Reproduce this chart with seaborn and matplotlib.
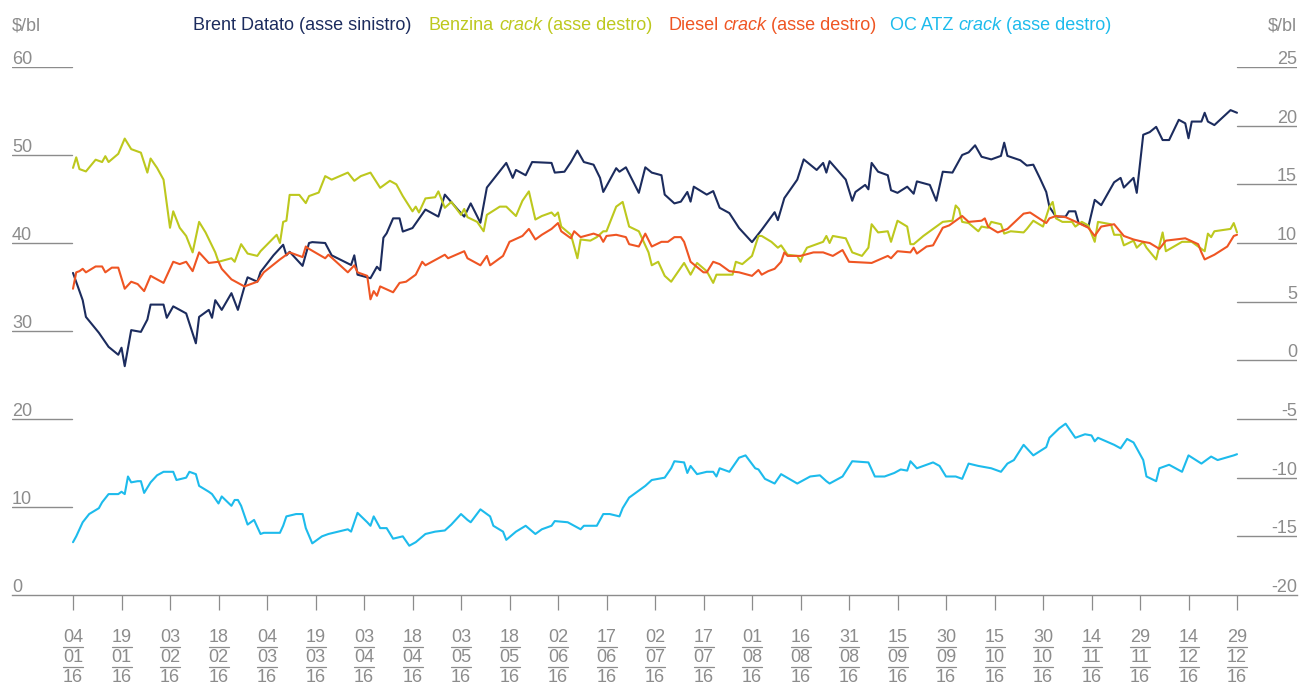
import matplotlib
matplotlib.use("Agg")
import pandas as pd
import seaborn as sns
import matplotlib.pyplot as plt
import matplotlib.dates as mdates
import matplotlib.transforms as mtransforms

START = pd.Timestamp("2016-01-04")

# days counted from 04/01/16
brent_day = [0, 3, 4, 8, 11, 14, 15, 16, 18, 21,
             23, 24, 28, 29, 31, 35, 38, 39, 42, 43,
             44, 46, 49, 51, 53, 54, 57, 58, 62, 65,
             66, 67, 71, 73, 74, 78, 80, 86, 87, 88,
             92, 94, 95, 96, 97, 99, 101, 102, 105, 109,
             113, 115, 119, 121, 123, 126, 128, 134, 136, 137,
             140, 142, 148, 149, 152, 154, 156, 158, 161, 163,
             164, 168, 169, 171, 175, 177, 179, 182, 183, 186,
             188, 190, 191, 192, 196, 198, 200, 203, 206, 210,
             213, 217, 218, 220, 224, 226, 230, 232, 233, 234,
             239, 241, 242, 245, 246, 247, 249, 252, 253, 255,
             258, 260, 261, 265, 267, 269, 272, 275, 277, 279,
             281, 284, 287, 288, 289, 293, 295, 297, 299, 301,
             302, 304, 307, 308, 310, 311, 314, 316, 318, 322,
             324, 325, 328, 329, 331, 333, 335, 337, 339, 342,
             344, 345, 346, 349, 350, 351, 353, 358, 360]
brent_usd = [36.6, 33.5, 31.6, 29.8, 28.2, 27.3, 28.1, 26.0, 30.1, 29.9,
             31.3, 33.0, 33.0, 31.5, 32.8, 32.0, 28.6, 31.6, 32.4, 31.5,
             33.5, 32.4, 34.3, 32.4, 35.0, 36.1, 35.6, 36.7, 38.6, 39.8,
             38.6, 39.0, 37.4, 40.0, 40.1, 40.0, 38.6, 37.5, 38.6, 36.4,
             36.0, 37.3, 36.9, 40.6, 41.1, 42.8, 42.8, 41.3, 41.7, 43.8,
             43.0, 45.5, 43.8, 43.0, 44.5, 42.3, 46.3, 49.1, 47.4, 48.3,
             47.7, 49.2, 49.1, 48.0, 48.1, 49.2, 50.5, 49.2, 48.9, 47.4,
             45.8, 48.5, 48.1, 48.6, 45.7, 48.6, 48.0, 47.7, 45.5, 44.5,
             44.7, 45.8, 44.7, 46.4, 45.5, 45.9, 44.0, 43.4, 41.7, 40.1,
             41.5, 43.5, 42.6, 45.1, 47.2, 49.5, 48.3, 49.1, 48.0, 49.3,
             47.2, 44.8, 45.8, 46.6, 46.1, 49.1, 48.1, 47.7, 46.0, 45.7,
             46.4, 45.6, 47.0, 46.6, 44.8, 48.1, 48.0, 50.0, 50.3, 51.1,
             49.8, 49.5, 49.9, 51.4, 49.9, 49.4, 48.8, 48.9, 47.4, 45.8,
             44.1, 43.0, 43.0, 43.6, 43.6, 42.3, 41.8, 44.9, 44.3, 46.9,
             47.4, 46.3, 47.4, 45.7, 52.3, 52.6, 53.2, 51.7, 51.7, 54.0,
             53.6, 51.9, 53.8, 53.8, 54.8, 53.8, 53.4, 55.1, 54.8]

benzina_day = [0, 1, 2, 4, 7, 9, 10, 11, 14, 16,
               18, 21, 23, 24, 26, 28, 30, 31, 33, 35,
               37, 39, 41, 44, 45, 49, 50, 52, 54, 57,
               58, 63, 64, 65, 66, 67, 70, 72, 73, 76,
               78, 80, 85, 87, 89, 92, 95, 98, 100, 102,
               105, 106, 107, 109, 112, 113, 115, 117, 120, 121,
               122, 125, 127, 128, 132, 134, 137, 139, 141, 143,
               145, 148, 149, 150, 151, 154, 156, 157, 160, 162,
               164, 165, 168, 170, 172, 175, 178, 179, 181, 183,
               185, 189, 191, 193, 196, 198, 199, 204, 205, 207,
               210, 212, 213, 216, 218, 219, 221, 224, 225, 226,
               227, 232, 233, 234, 235, 239, 241, 244, 246, 247,
               249, 252, 253, 255, 258, 259, 260, 263, 266, 269,
               272, 273, 274, 275, 277, 280, 281, 283, 284, 287,
               288, 290, 294, 295, 297, 300, 302, 303, 304, 306,
               309, 310, 312, 314, 316, 317, 321, 322, 324, 325,
               328, 329, 331, 332, 335, 337, 338, 343, 346, 350,
               351, 352, 353, 358, 359, 360]
benzina_usd = [16.4, 17.3, 16.3, 16.1, 17.1, 16.9, 17.4, 16.9, 17.6, 18.9,
               18.0, 17.7, 16.0, 17.2, 16.4, 15.4, 11.3, 12.7, 11.3, 10.6,
               9.2, 11.8, 10.9, 9.2, 8.4, 8.7, 8.4, 9.9, 9.1, 8.9,
               9.3, 10.7, 10.0, 11.8, 11.9, 14.1, 14.1, 13.4, 14.0, 14.3,
               15.7, 15.4, 16.0, 15.3, 15.7, 16.0, 14.7, 15.3, 15.0, 14.0,
               12.7, 13.1, 12.6, 13.8, 13.9, 14.4, 13.0, 13.5, 12.4, 12.9,
               12.2, 11.8, 11.0, 12.4, 13.1, 13.1, 12.3, 13.6, 14.4, 12.0,
               12.3, 12.6, 12.3, 12.6, 11.4, 10.7, 8.7, 10.3, 10.2, 10.5,
               11.0, 11.0, 13.1, 13.5, 11.4, 11.0, 9.2, 8.1, 8.4, 7.2,
               6.7, 8.3, 7.3, 8.3, 7.6, 6.6, 7.3, 7.3, 8.4, 8.2,
               8.9, 10.6, 10.6, 10.1, 9.6, 9.8, 9.0, 8.9, 8.4, 9.1,
               9.6, 10.1, 10.6, 10.0, 10.6, 10.4, 9.2, 8.9, 9.6, 11.6,
               10.9, 11.0, 10.1, 11.9, 11.4, 9.9, 9.9, 10.6, 11.2, 11.8,
               11.9, 13.2, 12.9, 11.8, 11.7, 11.0, 11.4, 11.3, 11.8, 11.6,
               10.8, 11.0, 10.9, 11.2, 11.9, 11.4, 13.1, 13.5, 12.1, 11.8,
               11.8, 11.4, 11.8, 11.5, 10.1, 11.8, 11.6, 10.7, 10.7, 9.8,
               10.2, 9.6, 10.1, 9.6, 8.6, 10.9, 9.3, 10.1, 10.1, 9.3,
               10.8, 10.5, 11.0, 11.2, 11.7, 10.9]

diesel_day = [0, 1, 2, 3, 4, 7, 9, 10, 12, 14,
              16, 18, 20, 22, 24, 28, 31, 33, 35, 37,
              39, 42, 45, 46, 49, 53, 57, 59, 64, 67,
              71, 72, 73, 78, 79, 85, 87, 88, 91, 92,
              93, 94, 95, 99, 101, 103, 106, 108, 109, 113,
              115, 116, 121, 122, 126, 128, 129, 133, 135, 139,
              141, 143, 145, 148, 150, 151, 154, 155, 157, 161,
              163, 164, 165, 168, 171, 172, 175, 177, 179, 182,
              184, 186, 188, 189, 191, 195, 196, 198, 200, 203,
              206, 210, 212, 213, 215, 217, 219, 220, 221, 225,
              229, 232, 235, 238, 240, 247, 252, 253, 255, 259,
              260, 261, 264, 266, 269, 271, 275, 277, 281, 282,
              283, 286, 289, 294, 296, 301, 302, 304, 307, 311,
              314, 316, 318, 322, 325, 328, 331, 333, 336, 338,
              344, 348, 349, 350, 353, 357, 359, 360]
diesel_usd = [6.1, 7.5, 7.6, 7.8, 7.5, 8.0, 8.0, 7.5, 7.9, 7.9,
              6.1, 6.7, 6.5, 5.9, 7.2, 6.6, 8.4, 8.2, 8.4, 7.6,
              9.2, 8.3, 8.4, 7.8, 6.9, 6.3, 6.7, 7.5, 8.6, 9.2,
              8.8, 9.7, 9.5, 8.7, 9.0, 7.5, 8.1, 7.5, 7.2, 5.2,
              5.9, 5.5, 6.3, 5.8, 6.6, 6.7, 7.3, 8.4, 8.1, 8.7,
              9.0, 8.7, 9.3, 8.7, 8.1, 8.9, 8.1, 8.9, 10.1, 10.6,
              11.2, 10.3, 10.7, 11.2, 11.7, 11.0, 10.4, 11.0, 10.5, 10.8,
              10.6, 10.1, 10.6, 10.7, 10.5, 9.9, 9.7, 10.8, 9.7, 10.1,
              10.1, 10.5, 10.5, 10.1, 8.4, 7.5, 7.5, 8.4, 8.2, 7.6,
              7.5, 7.2, 7.7, 7.3, 7.6, 7.8, 8.4, 9.2, 8.9, 8.9,
              9.2, 9.2, 8.9, 9.4, 8.4, 8.3, 8.9, 8.7, 9.3, 9.2,
              9.6, 9.1, 9.7, 9.8, 11.3, 11.5, 12.3, 11.8, 11.9, 12.1,
              11.4, 10.9, 11.2, 12.5, 12.6, 11.7, 12.1, 12.3, 12.2, 11.7,
              11.3, 10.6, 11.4, 11.6, 10.6, 10.3, 10.1, 10.0, 9.5, 10.2,
              10.4, 9.9, 9.2, 8.6, 9.0, 9.7, 10.6, 10.7]

ocatz_day = [0, 1, 3, 5, 8, 9, 11, 14, 15, 16,
             17, 18, 20, 21, 22, 24, 26, 28, 31, 32,
             35, 36, 38, 39, 42, 43, 45, 46, 49, 50,
             51, 52, 54, 56, 58, 59, 64, 65, 66, 69,
             71, 72, 74, 77, 79, 82, 85, 86, 88, 91,
             92, 93, 95, 97, 99, 102, 104, 106, 109, 112,
             115, 117, 120, 122, 123, 126, 129, 130, 133, 134,
             137, 140, 143, 145, 148, 149, 153, 157, 158, 162,
             164, 166, 169, 170, 172, 174, 177, 179, 183, 185,
             186, 189, 190, 191, 193, 196, 198, 199, 200, 203,
             206, 208, 211, 212, 214, 217, 219, 224, 228, 231,
             233, 234, 238, 241, 246, 248, 251, 254, 256, 258,
             259, 261, 266, 268, 270, 273, 275, 277, 280, 284,
             287, 289, 291, 294, 297, 301, 302, 305, 307, 310,
             313, 315, 316, 317, 322, 324, 326, 328, 331, 332,
             335, 336, 339, 343, 345, 349, 352, 354, 359, 360]
ocatz_usd = [-15.5, -15.0, -13.8, -13.1, -12.6, -12.1, -11.4, -11.4, -11.2, -11.4,
             -9.9, -10.4, -10.3, -10.3, -11.3, -10.4, -9.8, -9.5, -9.5, -10.2,
             -10.0, -9.5, -9.7, -10.7, -11.2, -11.4, -12.2, -11.6, -12.4, -11.9,
             -11.9, -12.4, -14.0, -13.6, -14.8, -14.7, -14.7, -14.1, -13.3, -13.1,
             -13.1, -14.3, -15.6, -15.0, -14.8, -14.6, -14.4, -14.6, -13.0, -13.8,
             -14.1, -13.3, -14.3, -14.3, -15.2, -15.0, -15.8, -15.5, -14.8, -14.6,
             -14.5, -14.0, -13.1, -13.6, -13.8, -12.7, -13.3, -14.1, -14.6, -15.3,
             -14.6, -14.1, -14.8, -14.4, -14.1, -13.7, -13.8, -14.4, -14.1, -14.1,
             -13.1, -13.1, -13.3, -12.6, -11.7, -11.3, -10.7, -10.2, -10.0, -9.2,
             -8.6, -8.7, -9.6, -9.0, -9.7, -9.5, -9.5, -9.9, -9.2, -9.5,
             -8.3, -8.1, -9.2, -9.3, -10.1, -10.5, -9.7, -10.5, -9.9, -9.8,
             -10.3, -10.5, -9.9, -8.6, -8.7, -9.9, -9.9, -9.6, -9.3, -9.4,
             -8.6, -9.2, -8.7, -9.0, -9.9, -9.9, -10.1, -8.8, -9.0, -9.2,
             -9.5, -8.8, -8.5, -7.2, -8.1, -7.4, -6.6, -5.8, -5.4, -6.6,
             -6.3, -6.4, -6.9, -6.6, -7.2, -7.5, -6.7, -7.0, -8.5, -9.9,
             -10.3, -9.2, -8.9, -9.5, -8.1, -8.8, -8.2, -8.5, -8.1, -8.0]

left_ticks = [0, 10, 20, 30, 40, 50, 60]
right_ticks = [-20, -15, -10, -5, 0, 5, 10, 15, 20, 25]
tick_dates = pd.date_range("2016-01-04", "2016-12-29", freq="15D")

NAVY = "#1c2c5e"
LIME = "#bdc81e"
ORANGE = "#ef5523"
SKY = "#1dbbec"
GRAY = "#8c8c8c"


def frame(days, values):
    return pd.DataFrame({"date": START + pd.to_timedelta(days, unit="D"),
                         "value": values})


sns.set_theme(style="white")
plt.rcParams["font.family"] = ["Liberation Sans", "DejaVu Sans"]

W, H = 1299, 684
fig = plt.figure(figsize=(W / 100, H / 100), dpi=100)
ax = fig.add_axes([12 / W, 1 - 595 / H, (1297 - 12) / W, 528 / H])
ax2 = ax.twinx()

sns.lineplot(data=frame(brent_day, brent_usd), x="date", y="value",
             color=NAVY, lw=1.5, ax=ax)
for days, vals, col in [(benzina_day, benzina_usd, LIME),
                        (diesel_day, diesel_usd, ORANGE),
                        (ocatz_day, ocatz_usd, SKY)]:
    sns.lineplot(data=frame(days, vals), x="date", y="value",
                 color=col, lw=1.5, ax=ax2)

ax.set_ylim(0, 60)
ax2.set_ylim(-20, 25)
px_day = (1237 - 73) / 360
ax.set_xlim(START - pd.Timedelta(days=(73 - 12) / px_day),
            START + pd.Timedelta(days=360 + (1297 - 1237) / px_day))

for a in (ax, ax2):
    a.set_xlabel("")
    a.set_ylabel("")
    a.set_yticks([])
    for s in a.spines.values():
        s.set_visible(False)
ax.spines["bottom"].set_visible(True)
ax.spines["bottom"].set_color(GRAY)
ax.spines["bottom"].set_linewidth(1)
ax.set_xticks(tick_dates)
ax.set_xticklabels([""] * len(tick_dates))
ax.tick_params(axis="x", bottom=True, length=11, width=0.9, color=GRAY,
               direction="out")

# short gridline stubs at both edges, with labels sitting on them
left_tr = mtransforms.blended_transform_factory(ax.transAxes, ax.transData)
right_tr = mtransforms.blended_transform_factory(ax2.transAxes, ax2.transData)
lab_up = mtransforms.ScaledTranslation(0, 3 / 100, fig.dpi_scale_trans)
x_stub = 60 / 1285
for v in left_ticks:
    if v != 0:
        ax.plot([0, x_stub], [v, v], transform=left_tr, color=GRAY, lw=1)
    ax.text(0, v, str(v), transform=left_tr + lab_up, ha="left",
            va="baseline", fontsize=13, color=GRAY)
for v in right_ticks:
    if v != -20:
        ax2.plot([1 - x_stub, 1], [v, v], transform=right_tr, color=GRAY, lw=1)
    ax2.text(1, v, str(v), transform=right_tr + lab_up, ha="right",
             va="baseline", fontsize=13, color=GRAY)

# stacked dd / mm / yy date labels
date_tr = mtransforms.blended_transform_factory(ax.transData, fig.transFigure)
half = 10 / px_day
for d in tick_dates:
    dn = mdates.date2num(d)
    for txt, ypx in [(d.strftime("%d"), 642), (d.strftime("%m"), 662),
                     (d.strftime("%y"), 682)]:
        ax.text(dn, 1 - ypx / H, txt, transform=date_tr, ha="center",
                va="baseline", fontsize=13, color=GRAY, clip_on=False)
    for ypx in (647, 667):
        ax.plot([dn - half, dn + half], [1 - ypx / H] * 2, transform=date_tr,
                color=GRAY, lw=0.9, clip_on=False)

# header: units and coloured legend
fig.text(12 / W, 1 - 30 / H, "$/bl", ha="left", va="baseline",
         fontsize=13, color=GRAY)
fig.text(1297 / W, 1 - 30 / H, "$/bl", ha="right", va="baseline",
         fontsize=13, color=GRAY)

renderer = fig.canvas.get_renderer()
legend_items = [
    (193, NAVY, [("Brent Datato (asse sinistro)", "normal")]),
    (429, LIME, [("Benzina", "normal"), ("crack", "italic"), ("(asse destro)", "normal")]),
    (668, ORANGE, [("Diesel", "normal"), ("crack", "italic"), ("(asse destro)", "normal")]),
    (890, SKY, [("OC ATZ", "normal"), ("crack", "italic"), ("(asse destro)", "normal")]),
]
for x0, col, parts in legend_items:
    x = x0
    for txt, style in parts:
        t = fig.text(x / W, 1 - 30 / H, txt, ha="left", va="baseline",
                     fontsize=13, color=col, style=style)
        x += t.get_window_extent(renderer).width + 5

fig.savefig("out.png", dpi=100)
